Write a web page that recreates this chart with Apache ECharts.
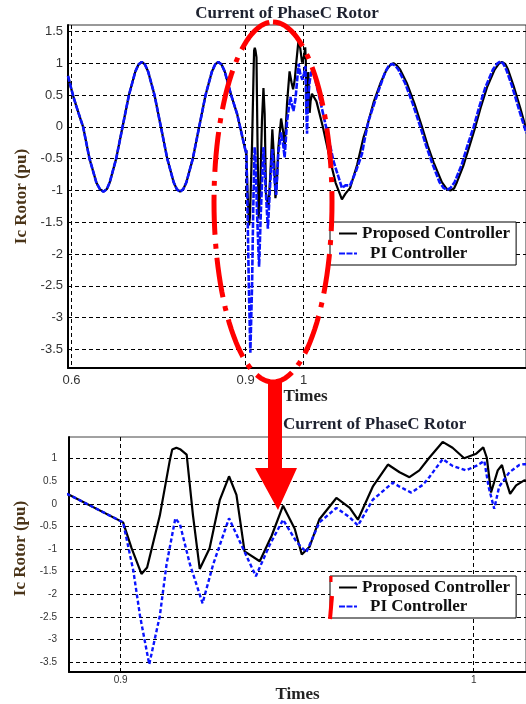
<!DOCTYPE html>
<html>
<head>
<meta charset="utf-8">
<script src="https://cdn.jsdelivr.net/npm/echarts@6/dist/echarts.min.js"></script>
<style>html,body{margin:0;padding:0;background:#fff;}#c{width:526px;height:704px;}</style>
</head>
<body>
<div id="c"></div>
<script>
// ---- data ----
const preFaultTime = [0.594,0.599,0.604,0.612,0.620,0.631,0.643,0.649,0.655,0.661,0.666,0.677,0.688,0.699,0.710,0.7155,0.721,0.7265,0.732,0.743,0.754,0.765,0.776,0.7815,0.787,0.7925,0.798,0.809,0.820,0.831,0.842,0.8475,0.853,0.8585,0.864,0.875,0.8854,0.9007,0.9012];
const preFaultIc   = [0.80,0.62,0.45,0.22,0.0,-0.5,-0.88,-0.98,-1.02,-0.98,-0.87,-0.5,0.0,0.5,0.87,0.98,1.02,0.98,0.87,0.5,0.0,-0.5,-0.87,-0.98,-1.02,-0.98,-0.87,-0.5,0.0,0.5,0.87,0.98,1.02,0.98,0.87,0.5,0.2,-0.41,-0.37];

const proposedTime = [0.9031,0.9059,0.9075,0.9111,0.9139,0.9146,0.9158,0.9170,0.9187,0.9205,0.9224,0.9252,0.9281,0.9307,0.9328,0.9351,0.9394,0.9428,0.9460,0.9493,0.9513,0.9535,0.9563,0.9611,0.9649,0.9672,0.9714,0.9757,0.9790,0.9818,0.9846,0.9874,0.9912,0.9940,0.9973,1.0007,1.0027,1.0037,1.0049,1.0068,1.0080,1.0091,1.0103,1.0120,1.0143,1.022,1.033,1.045,1.055,1.0659,1.072,1.080,1.092,1.103,1.109,1.121,1.132,1.143,1.149,1.1548,1.160,1.166,1.178,1.191,1.2038,1.2138,1.2238,1.238,1.246,1.2526,1.259,1.264,1.2755,1.2857,1.2957,1.3058,1.3158,1.329,1.336,1.3417,1.347,1.352,1.3617,1.3730,1.3836];
const proposedIc   = [-0.98,-1.55,-1.41,-0.26,0.95,1.2,1.24,1.2,1.09,-0.26,-1.44,-0.98,0.09,0.61,0.2,-1.05,-1.27,-0.7,-0.04,-0.55,-1.12,-0.95,-0.34,0.13,-0.09,-0.35,0.38,0.87,0.70,0.59,0.74,1.02,1.37,1.24,1.01,1.11,1.25,1.02,0.25,0.74,0.86,0.52,0.22,0.41,0.52,0.4,0.0,-0.5,-0.88,-1.14,-1.05,-0.96,-0.6,-0.17,0.0,0.4,0.68,0.9,0.97,1.0,0.97,0.9,0.68,0.36,0.0,-0.3,-0.56,-0.87,-0.97,-1.0,-0.97,-0.87,-0.6,-0.3,0.0,0.33,0.62,0.9,0.99,1.02,0.99,0.9,0.64,0.3,-0.05];

const piTime = [0.9036,0.9055,0.9081,0.9111,0.9130,0.9155,0.9168,0.9196,0.9232,0.9262,0.9307,0.9342,0.9383,0.9422,0.9460,0.9498,0.9526,0.9563,0.9611,0.9649,0.9672,0.9714,0.9771,0.9790,0.9823,0.9856,0.9874,0.9912,0.9940,0.9978,1.0007,1.0030,1.0042,1.0058,1.0072,1.0101,1.0129,1.0143,1.017,1.0284,1.040,1.0514,1.0659,1.072,1.080,1.090,1.1003,1.106,1.112,1.129,1.140,1.146,1.152,1.158,1.163,1.175,1.188,1.201,1.211,1.221,1.234,1.241,1.247,1.253,1.260,1.272,1.282,1.2928,1.303,1.313,1.326,1.333,1.3388,1.344,1.349,1.359,1.370,1.3836];
const piIc   = [-1.48,-2.48,-3.55,-2.48,-1.34,-0.32,-0.45,-1.33,-2.2,-1.34,-0.32,-0.91,-1.6,-0.91,-0.35,-0.84,-1.07,-0.41,-0.09,-0.3,-0.48,0.09,0.47,0.38,0.25,0.42,0.59,0.99,0.84,0.74,0.84,0.95,0.38,-0.11,0.38,0.70,0.86,0.88,0.86,0.41,-0.06,-0.54,-0.96,-0.92,-0.92,-0.7,-0.43,-0.15,0.1,0.57,0.85,0.95,0.99,0.96,0.9,0.68,0.36,0.0,-0.3,-0.56,-0.87,-0.96,-0.99,-0.96,-0.87,-0.6,-0.3,0.0,0.33,0.62,0.9,0.99,1.03,0.99,0.9,0.64,0.3,-0.1];

const topXTicks = [0.6, 0.9, 1];
const bottomXTicks = [0.9, 1];
const topYTicks = [-3.5,-3,-2.5,-2,-1.5,-1,-0.5,0,0.5,1,1.5];
const bottomYTicks = [-3.5,-3,-2.5,-2,-1.5,-1,-0.5,0,0.5,1];

const chartTitle = 'Current of PhaseC Rotor';
const xName = 'Times';
const yName = 'Ic Rotor (pu)';
const nameProposed = 'Proposed Controller';
const namePI = 'PI Controller';

// ---- build series data ----
function zip(t, v) { return t.map((x, i) => [x, v[i]]); }
const pre = zip(preFaultTime, preFaultIc);
const proposedData = pre.concat(zip(proposedTime, proposedIc));
const piData = pre.concat(zip(piTime, piIc));

const serifBold = {fontFamily: 'Liberation Serif', fontWeight: 'bold'};
const gridLine = {show: true, lineStyle: {color: '#000', width: 1, type: [4, 3]}};

function xAxisCfg(gi, min, max, ticks, fs, margin, gap, pad) {
  return {
    type: 'value', gridIndex: gi, min: min, max: max,
    axisLine: {show: true, onZero: false, lineStyle: {color: '#000', width: 2}},
    axisTick: {show: false, customValues: ticks},
    axisLabel: {customValues: ticks, fontFamily: 'Liberation Sans', fontSize: fs, color: '#333', margin: margin, formatter: v => String(v)},
    splitLine: gridLine,
    name: xName, nameLocation: 'middle', nameGap: gap,
    nameTextStyle: Object.assign({fontSize: 17, color: '#222', padding: pad}, serifBold)
  };
}
function yAxisCfg(gi, min, max, ticks, fs, margin, gap, pad) {
  return {
    type: 'value', gridIndex: gi, min: min, max: max,
    axisLine: {show: true, onZero: false, lineStyle: {color: '#000', width: 2}},
    axisTick: {show: false, customValues: ticks},
    axisLabel: {customValues: ticks, fontFamily: 'Liberation Sans', fontSize: fs, color: '#333', margin: margin, formatter: v => String(v)},
    splitLine: gridLine,
    name: yName, nameLocation: 'middle', nameGap: gap,
    nameTextStyle: Object.assign({fontSize: 17, color: '#4a3418', padding: pad}, serifBold)
  };
}
function legendCfg(top, gap) {
  return {
    left: 330, top: top, orient: 'vertical',
    backgroundColor: '#fff', borderColor: '#000', borderWidth: 1,
    padding: [3, 6, 3, 8], itemGap: gap, itemWidth: 18, itemHeight: 17,
    itemStyle: {color: 'transparent', borderColor: 'transparent', borderWidth: 0},
    textStyle: Object.assign({fontSize: 17, color: '#111'}, serifBold),
    data: [{name: nameProposed}, {name: namePI, textStyle: {padding: [0, 0, 0, 8]}}]
  };
}

// ellipse outline for the red annotation
const ell = [];
for (let i = 0; i <= 120; i++) {
  const a = -Math.PI / 2 + i * 2 * Math.PI / 120;
  ell.push([273 + 59 * Math.cos(a), 202 + 180 * Math.sin(a)]);
}

const option = {
  animation: false,
  backgroundColor: '#fff',
  title: [
    {text: chartTitle, left: 287, top: 5, textAlign: 'center', padding: 0,
     textStyle: Object.assign({fontSize: 17, color: '#1e2230'}, serifBold)},
    {text: chartTitle, left: 283, top: 416, padding: 0,
     textStyle: Object.assign({fontSize: 17, color: '#1e2230'}, serifBold)}
  ],
  grid: [
    {left: 68, top: 25, width: 459, height: 343, show: true, borderColor: '#333', borderWidth: 1, backgroundColor: 'transparent'},
    {left: 69, top: 437, width: 458, height: 242, show: true, borderColor: '#444', borderWidth: 1, backgroundColor: 'transparent'}
  ],
  xAxis: [
    xAxisCfg(0, 0.594, 1.383, topXTicks, 13, 6, 19, [0, 0, 0, 17]),
    xAxisCfg(1, 0.88538, 1.0148, bottomXTicks, 10, 3, 7, [0, 0, 0, 0])
  ],
  yAxis: [
    yAxisCfg(0, -3.79, 1.60, topYTicks, 13, 5, 37, [0, 0, 0, 0]),
    yAxisCfg(1, -3.722, 1.479, bottomYTicks, 10, 12, 37, [0, 0, 0, 12])
  ],
  legend: [legendCfg(222, 3), legendCfg(576, 2)],
  series: [
    {name: nameProposed, type: 'line', xAxisIndex: 0, yAxisIndex: 0, data: proposedData, symbol: 'none', lineStyle: {color: '#000', width: 2.2}, itemStyle: {color: '#000'}, z: 2},
    {name: namePI, type: 'line', xAxisIndex: 0, yAxisIndex: 0, data: piData, symbol: 'none', lineStyle: {color: '#0a14ff', width: 2.6, type: [6, 1.5]}, itemStyle: {color: '#0a14ff'}, z: 3},
    {name: nameProposed, type: 'line', xAxisIndex: 1, yAxisIndex: 1, data: proposedData, symbol: 'none', lineStyle: {color: '#000', width: 2.2}, itemStyle: {color: '#000'}, z: 2},
    {name: namePI, type: 'line', xAxisIndex: 1, yAxisIndex: 1, data: piData, symbol: 'none', lineStyle: {color: '#0a14ff', width: 2.4, type: [4, 2.5]}, itemStyle: {color: '#0a14ff'}, z: 3}
  ],
  graphic: [
    {type: 'polyline', z: 100, shape: {points: ell}, style: {stroke: '#ff0000', fill: null, lineWidth: 5, lineDash: [40, 9, 5, 9]}},
    {type: 'polygon', z: 100, shape: {points: [[268, 380], [282, 380], [282, 468], [297, 468], [278, 510], [255, 468], [268, 468]]}, style: {fill: '#ff0000'}},
    {type: 'line', z: 100, shape: {x1: 331, y1: 576, x2: 331, y2: 582}, style: {stroke: '#ff0000', lineWidth: 3}},
    {type: 'line', z: 100, shape: {x1: 332, y1: 596, x2: 330, y2: 619}, style: {stroke: '#ff0000', lineWidth: 4}}
  ]
};
const chart = echarts.init(document.getElementById('c'), null, {renderer: 'canvas'});
chart.setOption(option);
</script>
</body>
</html>
